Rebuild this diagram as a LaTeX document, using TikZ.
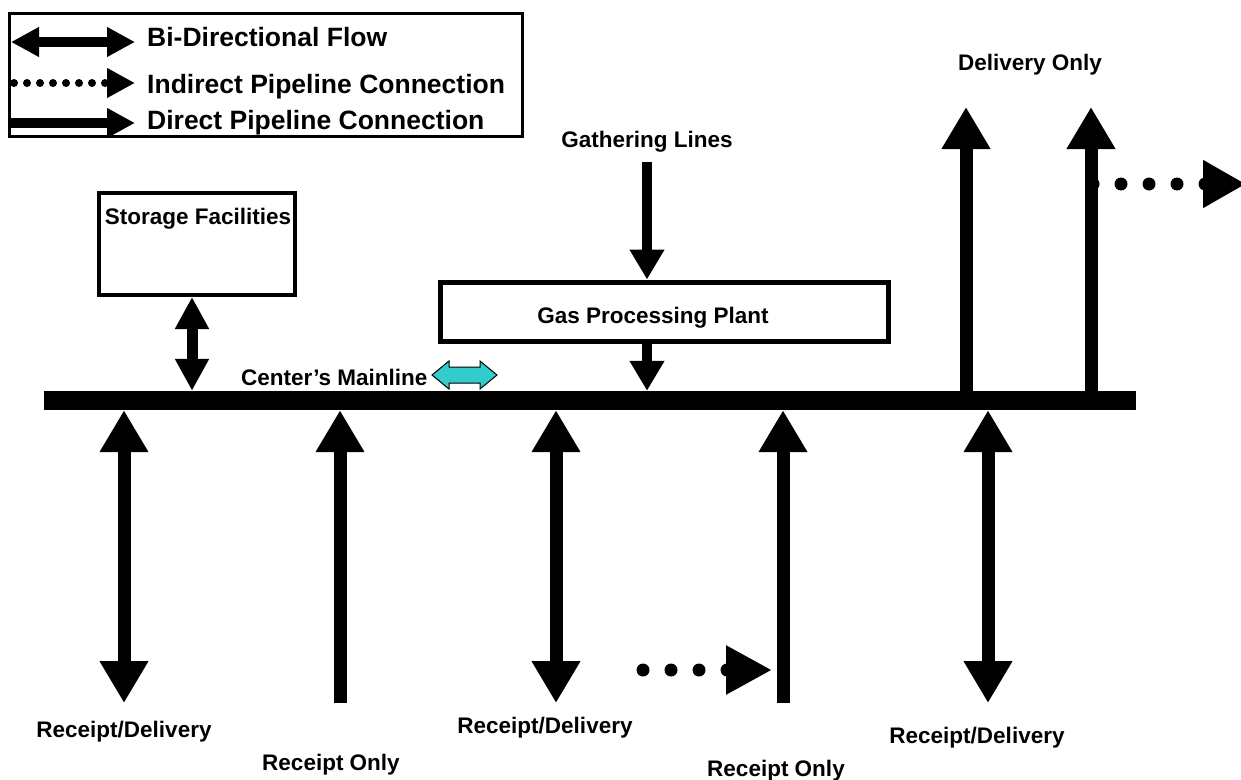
\documentclass[tikz,border=0pt]{standalone}
\usepackage{fontspec}
\setmainfont{Liberation Sans}
\usetikzlibrary{arrows.meta}
\definecolor{flowcyan}{RGB}{51,204,204}
\tikzset{
  lbl/.style={inner sep=0pt, anchor=base, font=\fontsize{22.5}{27}\selectfont\bfseries},
  leglbl/.style={inner sep=0pt, anchor=base west, font=\fontsize{26.5}{31}\selectfont\bfseries},
  bigtip/.tip={Triangle[length=42pt,width=46pt]},
  midtip/.tip={Triangle[length=32pt,width=32pt]},
  smalltip/.tip={Triangle[length=30pt,width=33pt]},
  legtip/.tip={Triangle[length=28pt,width=28pt]},
  bigflow/.style={line width=13pt},
  midflow/.style={line width=11pt},
  smallflow/.style={line width=9.5pt},
  legflow/.style={line width=10pt},
  bigdots/.style={line width=13pt, line cap=round, dash pattern=on 0pt off 28pt},
  legdots/.style={line width=8pt, line cap=round, dash pattern=on 0pt off 13pt},
  boxstyle/.style={draw, fill=white, inner sep=0pt},
}
\begin{document}
\begin{tikzpicture}[x=1pt,y=-1pt]
\useasboundingbox (0,0) rectangle (1241,779);

% legend
\node[draw, line width=3pt, minimum width=513pt, minimum height=123pt, inner sep=0pt] (legend) at (265.5,74.5) {};
\coordinate (l1a) at (11,42);  \coordinate (l1b) at (135,42);
\coordinate (l2a) at (14,83);  \coordinate (l2b) at (135,83);
\coordinate (l3a) at (9,123);  \coordinate (l3b) at (135,123);
\draw[legflow, {legtip}-{legtip}] (l1a) -- (l1b);
\draw[legdots, -{legtip}] (l2a) -- (l2b);
\draw[legflow, -{legtip}] (l3a) -- (l3b);
\node[leglbl] (t1) at (147,46) {Bi-Directional Flow};
\node[leglbl] (t2) at (147,93) {Indirect Pipeline Connection};
\node[leglbl] (t3) at (147,129) {Direct Pipeline Connection};

% mainline
\node[fill=black, inner sep=0pt, minimum width=1092pt, minimum height=19pt] (mainline) at (590,400.5) {};

% storage
\node[boxstyle, line width=4pt, minimum width=196pt, minimum height=102pt] (storage) at (197,244) {};
\node[lbl] (storagelbl) at (198,224) {Storage Facilities};
\coordinate (xs) at (192,0);
\draw[midflow, {midtip}-{midtip}] (storage.south -| xs) -- (mainline.north -| xs);

% gas processing plant
\node[boxstyle, line width=5pt, minimum width=448pt, minimum height=59pt] (gas) at (664,311.5) {};
\node[lbl] (gaslbl) at (653,323) {Gas Processing Plant};
\node[lbl] (gathlbl) at (647,147) {Gathering Lines};
\coordinate (gtop) at (647,162);
\draw[smallflow, -{smalltip}] (gtop) -- (gas.north -| gtop);
\draw[smallflow, -{smalltip}] (gas.south -| gtop) -- (mainline.north -| gtop);

% center's mainline label and cyan arrow
\node[lbl, anchor=base west] (mainlbl) at (241,385) {Center’s Mainline};
\coordinate (cyl) at (432,375);
\coordinate (cyr) at (497,375);
\draw[fill=flowcyan, line width=1pt, line join=miter]
  (cyl) -- ++(17,-14) -- ++(0,6) -- ++(31,0) -- ++(0,-6) -- (cyr)
  -- ++(-17,14) -- ++(0,-6) -- ++(-31,0) -- ++(0,6) -- cycle;

% bottom arrows
\coordinate (bA) at (124,703);
\coordinate (bB) at (340,703);
\coordinate (bC) at (556,703);
\coordinate (bD) at (783,703);
\coordinate (bE) at (988,703);
\draw[bigflow, {bigtip}-{bigtip}] (mainline.south -| bA) -- (bA);
\draw[bigflow, -{bigtip}] (bB) -- (mainline.south -| bB);
\draw[bigflow, {bigtip}-{bigtip}] (mainline.south -| bC) -- (bC);
\draw[bigflow, -{bigtip}] (bD) -- (mainline.south -| bD);
\draw[bigflow, {bigtip}-{bigtip}] (mainline.south -| bE) -- (bE);
\coordinate (dd1) at (643,670);
\coordinate (dd1e) at (772,670);
\draw[bigdots, -{Triangle[length=46pt,width=46pt]}] (dd1) -- (dd1e);

% top arrows
\coordinate (tF) at (966,107);
\coordinate (tG) at (1091,107);
\draw[bigflow, -{bigtip}] (mainline.north -| tF) -- (tF);
\draw[bigflow, -{bigtip}] (mainline.north -| tG) -- (tG);
\coordinate (dd2) at (1093,184);
\coordinate (dd2e) at (1246,184);
\draw[bigdots, -{Triangle[length=43pt,width=45pt]}] (dd2) -- (dd2e);

% labels
\node[lbl] (rd1) at (124,737) {Receipt/Delivery};
\node[lbl] (ro1) at (331,770) {Receipt Only};
\node[lbl] (rd2) at (545,733) {Receipt/Delivery};
\node[lbl] (ro2) at (776,776) {Receipt Only};
\node[lbl] (rd3) at (977,743) {Receipt/Delivery};
\node[lbl] (do) at (1030,70) {Delivery Only};
\end{tikzpicture}
\end{document}
